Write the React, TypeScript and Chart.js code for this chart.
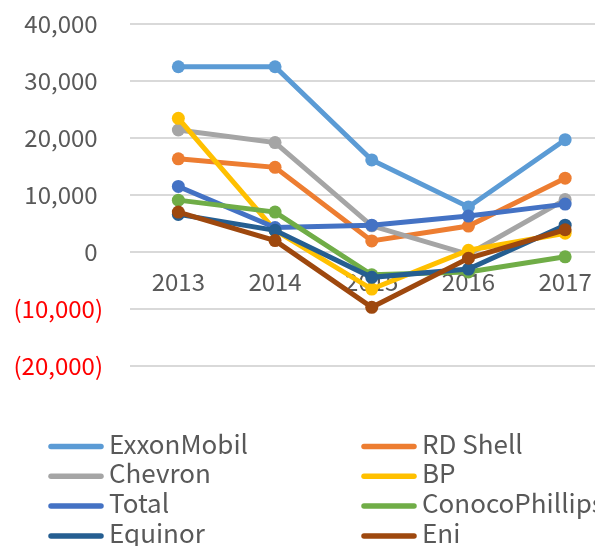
import React, { useEffect, useRef } from 'react';
import { Chart, registerables } from 'chart.js';

Chart.register(...registerables);

const FONT = '"Noto Sans CJK JP", "Noto Sans", sans-serif';

const years = ['2013', '2014', '2015', '2016', '2017'];
const seriesNames = ['ExxonMobil', 'RD Shell', 'Chevron', 'BP', 'Total', 'ConocoPhillips', 'Equinor', 'Eni'];
const seriesColors = ['#5B9BD5', '#ED7D31', '#A5A5A5', '#FFC000', '#4472C4', '#70AD47', '#255E91', '#9E480E'];

const exxonMobil = [32500, 32500, 16150, 7900, 19700];
const rdShell = [16350, 14850, 1950, 4550, 12950];
const chevron = [21400, 19200, 4600, -400, 9200];
const bp = [23450, 3800, -6500, 300, 3300];
const total = [11500, 4300, 4700, 6300, 8400];
const conocoPhillips = [9100, 7000, -4000, -3500, -850];
const equinor = [6600, 3800, -4450, -3000, 4700];
const eni = [7000, 2000, -9700, -1100, 3900];

const seriesValues = [exxonMobil, rdShell, chevron, bp, total, conocoPhillips, equinor, eni];

const yMin = -20000;
const yMax = 40000;
const yStep = 10000;

function formatTick(v: number): string {
  const s = Math.abs(v).toLocaleString('en-US');
  return v < 0 ? '(' + s + ')' : s + ' ';
}

const gridLegend = {
  id: 'gridLegend',
  afterDraw(chart: any) {
    const ctx = chart.ctx;
    ctx.save();
    chart.data.datasets.forEach((ds: any, i: number) => {
      const col = i % 2;
      const row = Math.floor(i / 2);
      const x0 = col === 0 ? 48 : 361;
      const y = 446.5 + row * 29.8;
      ctx.strokeStyle = ds.borderColor;
      ctx.lineWidth = 5.5;
      ctx.lineCap = 'round';
      ctx.beginPath();
      ctx.moveTo(x0 + 3, y);
      ctx.lineTo(x0 + 53, y);
      ctx.stroke();
      ctx.fillStyle = '#595959';
      ctx.font = '26px ' + FONT;
      ctx.textAlign = 'left';
      ctx.textBaseline = 'alphabetic';
      ctx.fillText(ds.label, x0 + 61, y + 7);
    });
    ctx.restore();
  },
};

export default function App() {
  const ref = useRef<HTMLCanvasElement | null>(null);

  useEffect(() => {
    document.body.style.overflow = 'hidden';
    const canvas = ref.current;
    if (!canvas) return;
    const chart = new Chart(canvas, {
      type: 'line',
      data: {
        labels: years,
        datasets: seriesNames.map((name, i) => ({
          label: name,
          data: seriesValues[i],
          borderColor: seriesColors[i],
          backgroundColor: seriesColors[i],
          pointBackgroundColor: seriesColors[i],
          pointBorderWidth: 0,
          pointRadius: 6.5,
          borderWidth: 5,
          tension: 0,
          fill: false,
          order: seriesNames.length - i,
        })),
      },
      options: {
        animation: false,
        responsive: false,
        devicePixelRatio: 1,
        layout: { padding: { top: 24, right: 5, bottom: 180, left: 0 } },
        plugins: {
          legend: { display: false },
          tooltip: { enabled: false },
          title: { display: false },
        },
        scales: {
          x: {
            position: { y: 0 } as any,
            offset: true,
            grid: { display: false, drawTicks: false },
            border: { display: false },
            ticks: {
              color: '#595959',
              font: { family: FONT, size: 24 },
              padding: 15,
              maxRotation: 0,
              autoSkip: false,
            },
          },
          y: {
            min: yMin,
            max: yMax,
            grid: { color: '#D9D9D9', lineWidth: 2, drawTicks: false },
            border: { display: false },
            ticks: {
              stepSize: yStep,
              padding: 27,
              font: { family: FONT, size: 24 },
              color: (c: any) => (c.tick && c.tick.value < 0 ? '#FF0000' : '#595959'),
              callback: (v: any) => formatTick(Number(v)),
            },
            afterFit: (s: any) => {
              s.width = 130;
              s.paddingTop = 0;
              s.paddingBottom = 0;
            },
          },
        },
      },
      plugins: [gridLegend],
    });
    return () => chart.destroy();
  }, []);

  return (
    <div style={{ position: 'fixed', left: 0, top: 0, width: 620, height: 546, background: '#fff' }}>
      <canvas ref={ref} width={620} height={546} />
    </div>
  );
}
